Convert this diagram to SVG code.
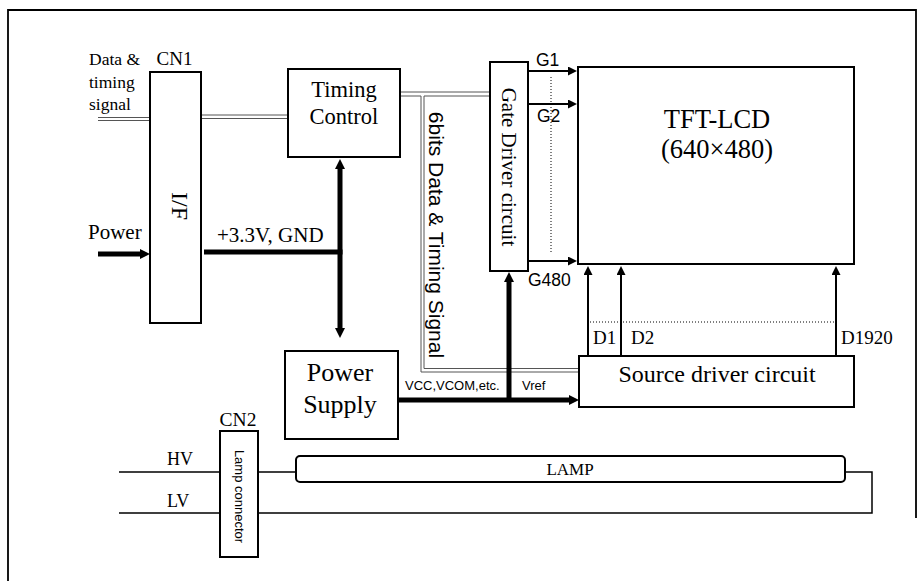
<svg xmlns="http://www.w3.org/2000/svg" width="924" height="581" viewBox="0 0 924 581">
<style>
.box{fill:#fff;stroke:#000;stroke-width:2}
.thin{fill:none;stroke:#000;stroke-width:1.5}
.bus{fill:none;stroke:#555;stroke-width:1}
.pw{fill:none;stroke:#000;stroke-width:5}
.sig{fill:none;stroke:#000;stroke-width:2}
.dot{fill:none;stroke:#000;stroke-width:1;stroke-dasharray:1 2}
.s{font-family:"Liberation Serif","Times New Roman",serif;fill:#000}
.a{font-family:"Liberation Sans",Arial,sans-serif;fill:#000}
</style>
<defs>
<marker id="ahl" markerUnits="userSpaceOnUse" markerWidth="10" markerHeight="10" viewBox="0 0 10 10" refX="0" refY="5" orient="auto-start-reverse"><path d="M0,0 L10,5 L0,10 Z" fill="#000"/></marker>
<marker id="ahs" markerUnits="userSpaceOnUse" markerWidth="9" markerHeight="9" viewBox="0 0 10 10" refX="0" refY="5" orient="auto"><path d="M0,0 L10,5 L0,10 Z" fill="#000"/></marker>
</defs>
<rect width="924" height="581" fill="#fff"/>
<path d="M8,581 V10 H916 V518" fill="none" stroke="#000" stroke-width="1.8"/>

<g id="connectors">
<path class="bus" d="M98,117.5 H150 M98,120.5 H150"/>
<path class="bus" d="M201,115 H288 M201,118.5 H288"/>
<path class="bus" d="M400,92 H490"/>
<path class="bus" d="M400,96 H421 V372 H580"/>
<path class="bus" d="M490,96 H424 V368.5 H580"/>
<path class="pw" d="M98,254 H140" marker-end="url(#ahl)"/>
<path class="pw" d="M204,252 H342.5" stroke-width="5.5"/>
<path class="pw" d="M340,169 V328" marker-start="url(#ahl)" marker-end="url(#ahl)"/>
<path class="pw" d="M398,400 H569" marker-end="url(#ahl)"/>
<path class="pw" d="M509,400 V282" stroke-width="4.5" marker-end="url(#ahl)"/>
<path class="sig" d="M528,71 H568" marker-end="url(#ahs)"/>
<path class="sig" d="M528,104 H568" marker-end="url(#ahs)"/>
<path class="sig" d="M528,261 H568" marker-end="url(#ahs)"/>
<path class="dot" d="M551,77 V253"/>
<path class="sig" d="M588,356 V275" marker-end="url(#ahs)"/>
<path class="sig" d="M621,356 V275" marker-end="url(#ahs)"/>
<path class="sig" d="M836,356 V275" marker-end="url(#ahs)"/>
<path class="dot" d="M590,322 H835"/>
<path class="thin" d="M119,472 H220 M258,472 H296"/>
<path class="thin" d="M119,513 H220 M258,513 H872 V472 H845"/>
</g>

<g id="labels">
<text class="s" x="89" y="65" font-size="17.5">Data &amp;</text>
<text class="s" x="89" y="88" font-size="17.5">timing</text>
<text class="s" x="89" y="110" font-size="17.5">signal</text>
<text class="s" x="88" y="239" font-size="21">Power</text>
<text class="s" x="217" y="242" font-size="21">+3.3V, GND</text>
<text class="a" x="536" y="66" font-size="17.5">G1</text>
<text class="a" x="537" y="122" font-size="17.5">G2</text>
<text class="a" x="528" y="286" font-size="17.5">G480</text>
<text class="a" x="405" y="390" font-size="13">VCC,VCOM,etc.</text>
<text class="a" x="522" y="390" font-size="13">Vref</text>
<text class="s" x="593" y="344" font-size="19">D1</text>
<text class="s" x="631" y="344" font-size="19">D2</text>
<text class="s" x="841" y="344" font-size="19">D1920</text>
<text class="s" x="167" y="465" font-size="18">HV</text>
<text class="s" x="167" y="507" font-size="18">LV</text>
<text class="a" transform="translate(436,235) rotate(90)" x="0" y="7.5" font-size="21" text-anchor="middle">6bits Data &amp; Timing Signal</text>
</g>

<g id="cn1">
<rect class="box" x="150" y="72" width="51" height="251"/>
<text class="s" x="174.5" y="65" font-size="19" text-anchor="middle">CN1</text>
<text class="s" transform="translate(180,206) rotate(90)" x="0" y="8" font-size="24" text-anchor="middle">I/F</text>
</g>

<g id="timing-control">
<rect class="box" x="288" y="69" width="112" height="88"/>
<text class="s" x="344" y="97" font-size="22.5" text-anchor="middle">Timing</text>
<text class="s" x="344" y="124" font-size="22.5" text-anchor="middle">Control</text>
</g>

<g id="gate-driver">
<rect class="box" x="490" y="62" width="38" height="209"/>
<text class="s" transform="translate(509,167) rotate(90)" x="0" y="7" font-size="21" text-anchor="middle">Gate Driver circuit</text>
</g>

<g id="tft-lcd">
<rect class="box" x="578" y="67" width="276" height="197"/>
<text class="s" x="717" y="128" font-size="26.5" text-anchor="middle">TFT-LCD</text>
<text class="s" x="717" y="158" font-size="26.5" text-anchor="middle">(640×480)</text>
</g>

<g id="source-driver">
<rect class="box" x="579" y="356" width="275" height="51"/>
<text class="s" x="717" y="382" font-size="24" text-anchor="middle">Source driver circuit</text>
</g>

<g id="power-supply">
<rect class="box" x="285" y="351" width="113" height="88"/>
<text class="s" x="340" y="381" font-size="26" text-anchor="middle">Power</text>
<text class="s" x="340" y="413" font-size="26" text-anchor="middle">Supply</text>
</g>

<g id="cn2">
<rect class="box" x="220" y="431" width="38" height="126" stroke-width="1.5"/>
<text class="s" x="238" y="426" font-size="19.5" text-anchor="middle">CN2</text>
<text class="a" transform="translate(240,496.5) rotate(90)" x="0" y="4.6" font-size="13" text-anchor="middle">Lamp connector</text>
</g>

<g id="lamp">
<rect class="box" x="296" y="456" width="549" height="26" rx="4"/>
<text class="s" x="570" y="475" font-size="17" text-anchor="middle">LAMP</text>
</g>
</svg>
